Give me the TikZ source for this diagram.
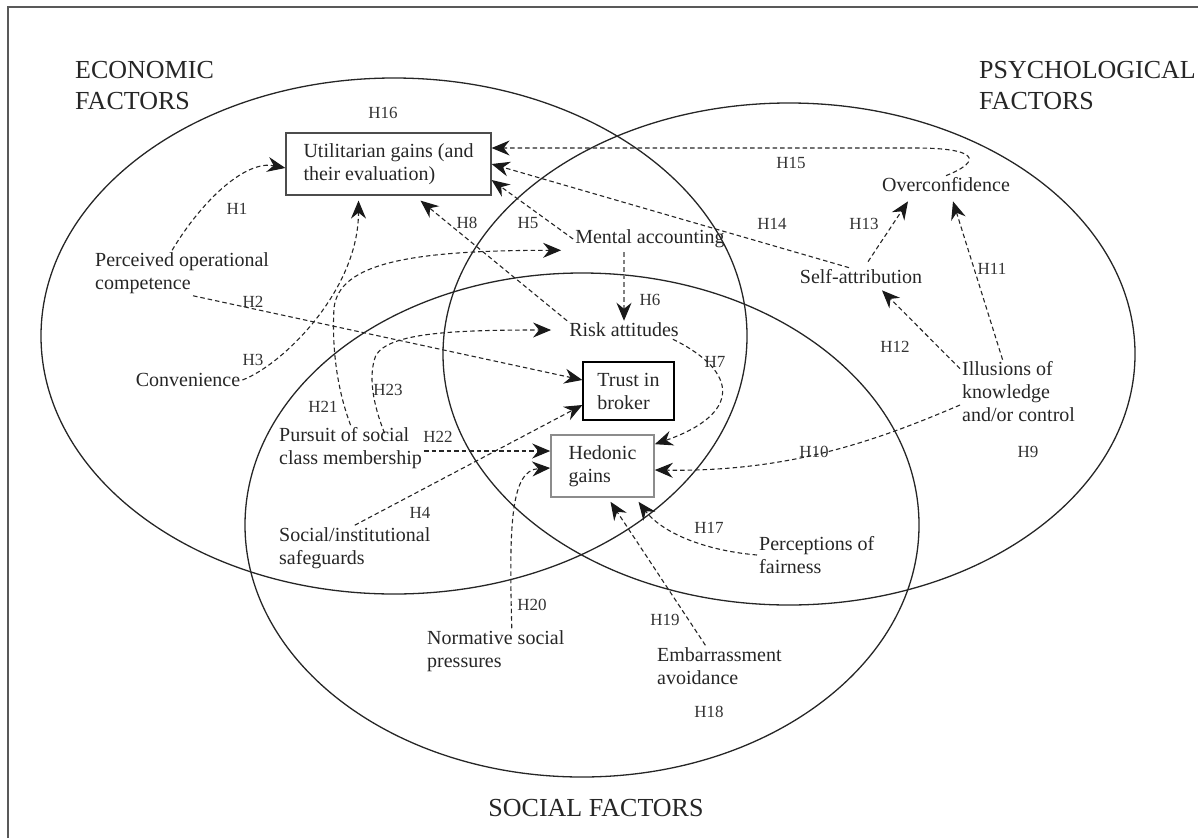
\documentclass[tikz,border=0pt]{standalone}
\usepackage{fontspec}
\setmainfont{Liberation Serif}
\usetikzlibrary{arrows.meta}

\begin{document}
\begin{tikzpicture}[x=1pt,y=-1pt,
  txt/.style={inner sep=2pt,align=left,text=black!85,font=\fontsize{20}{23}\selectfont},
  title/.style={inner sep=0pt,align=left,text=black!85,font=\fontsize{26}{31}\selectfont},
  hlab/.style={inner sep=1pt,text=black!80,font=\fontsize{17}{20}\selectfont},
  box/.style={txt,draw,line width=1.2pt,inner sep=0pt},
  hyp/.style={draw=black!85,line width=1.1pt,dash pattern=on 4.5pt off 3pt,
    -{Stealth[length=18pt,width=15pt,inset=6pt,color=black!90]}},
  field/.style={line width=1.3pt,black!85}]
\useasboundingbox (0,0) rectangle (1198,838);
\draw[black!65,line width=1.2pt] (8,838) -- (8,7) -- (1198,7);
% the three groups of factors
\draw[field] (394,336) ellipse [x radius=353pt, y radius=258pt];
\draw[field] (789,354) ellipse [x radius=346pt, y radius=251pt];
\draw[field] (582,525) ellipse [x radius=337pt, y radius=252pt];
\node[title,anchor=west] (econ) at (75,86) {ECONOMIC\\FACTORS};
\node[title,anchor=west] (psych) at (979,86) {PSYCHOLOGICAL\\FACTORS};
\node[title] (soc) at (596,808) {SOCIAL FACTORS};
% outcomes
\node[box,draw=black!70,minimum width=205pt,minimum height=62pt] (util) at (388.5,164) {Utilitarian gains (and\\their evaluation)};
\node[box,minimum width=91pt,minimum height=58pt] (trust) at (628.5,391) {Trust in\\broker};
\node[box,draw=black!45,line width=1.6pt,minimum width=103pt,minimum height=62pt] (hed) at (602.5,466) {Hedonic\\gains};
% factors
\node[txt,anchor=west] (perc) at (93,273) {Perceived operational\\competence};
\node[txt] (conv) at (188,380) {Convenience};
\node[txt] (ment) at (650,239) {Mental accounting};
\node[txt] (risk) at (624,330) {Risk attitudes};
\node[txt] (over) at (946,185) {Overconfidence};
\node[txt] (self) at (861,277) {Self-attribution};
\node[txt,anchor=west] (illu) at (960,392) {Illusions of\\knowledge\\and/or control};
\node[txt,anchor=west] (purs) at (277,448) {Pursuit of social\\class membership};
\node[txt,anchor=west] (safe) at (277,548) {Social/institutional\\safeguards};
\node[txt,anchor=west] (norm) at (425,651) {Normative social\\pressures};
\node[txt,anchor=west] (fair) at (757,555) {Perceptions of\\fairness};
\node[txt,anchor=west] (emb) at (655,666) {Embarrassment\\avoidance};
% hypotheses
\node[hlab] (h1) at (237,209) {H1};
\node[hlab] (h2) at (253,302) {H2};
\node[hlab] (h3) at (253,360) {H3};
\node[hlab] (h4) at (420,513) {H4};
\node[hlab] (h5) at (528,223) {H5};
\node[hlab] (h6) at (650,300) {H6};
\node[hlab] (h7) at (715,362) {H7};
\node[hlab] (h8) at (467,223) {H8};
\node[hlab] (h9) at (1028,452) {H9};
\node[hlab] (h10) at (814,452) {H10};
\node[hlab] (h11) at (992,269) {H11};
\node[hlab] (h12) at (895,347) {H12};
\node[hlab] (h13) at (864,224) {H13};
\node[hlab] (h14) at (772,224) {H14};
\node[hlab] (h15) at (791,163) {H15};
\node[hlab] (h16) at (383,113) {H16};
\node[hlab] (h17) at (709,528) {H17};
\node[hlab] (h18) at (709,712) {H18};
\node[hlab] (h19) at (665,620) {H19};
\node[hlab] (h20) at (532,605) {H20};
\node[hlab] (h21) at (323,407) {H21};
\node[hlab] (h22) at (438,437) {H22};
\node[hlab] (h23) at (388,390) {H23};
% links
\draw[hyp] ([xshift=-10pt]perc.north) .. controls +(30,-50) and +(-40,-8) .. ([yshift=-4pt]util.west);
\draw[hyp] ([xshift=100pt]perc.south west) -- ([yshift=11pt]trust.west);
\draw[hyp] (conv.east) .. controls +(40,-15) and +(0,90) .. ([xshift=-30pt,yshift=-5pt]util.south);
\draw[hyp] (safe.north) -- ([yshift=-14pt]trust.west);
\draw[hyp] (ment.west) -- ([yshift=-16pt]util.east);
\draw[hyp,draw=black!50] ([yshift=-2pt]risk.north |- ment.south) -- (risk.north);
\draw[hyp] ([xshift=-8pt]risk.south east) .. controls +(67,33) and +(86,-30) .. ([yshift=-10pt]hed.north east);
\draw[hyp] (risk.north west) -- ([xshift=32pt,yshift=-5pt]util.south);
\draw[hyp] ([yshift=-13pt]illu.west) .. controls +(-82,35) and +(136,2) .. ([yshift=-4pt]hed.east);
\draw[hyp] ([xshift=-16pt]illu.north) -- ([xshift=7pt,yshift=-7pt]over.south);
\draw[hyp] ([yshift=-9pt]illu.north west) -- ([xshift=21pt,yshift=-4pt]self.south);
\draw[hyp] ([xshift=7pt,yshift=6pt]self.north) -- ([xshift=-38pt,yshift=-7pt]over.south);
\draw[hyp] ([xshift=-12pt]self.north) -- (util.east);
\draw[hyp] (over.north) .. controls (985,160) and (975,148) .. (916,148) -- ([yshift=16pt]util.east);
\draw[hyp] (fair.west) .. controls +(-57,-5) and +(22,29) .. ([xshift=36pt,yshift=-4pt]hed.south);
\draw[hyp] ([xshift=-14pt]emb.north) -- ([xshift=8pt,yshift=-4pt]hed.south);
\draw[hyp] ([xshift=16pt]norm.north) .. controls +(-3,-106) and +(-39,2) .. ([yshift=-2pt]hed.west);
\draw[hyp] (purs.north) .. controls +(-15,-40) and +(-2,35) .. (334,308)
  .. controls +(5,-45) and +(-150,0) .. ([xshift=-12pt]ment.south west);
\draw[hyp] ([yshift=-3pt]purs.east) -- ([yshift=15pt]hed.west);
\draw[hyp] ([xshift=34pt,yshift=-8pt]purs.north) .. controls +(-12,-30) and +(-8,20) .. (376,355)
  .. controls +(14,-22) and +(-100,0) .. ([xshift=-16pt]risk.west);
\end{tikzpicture}
\end{document}
